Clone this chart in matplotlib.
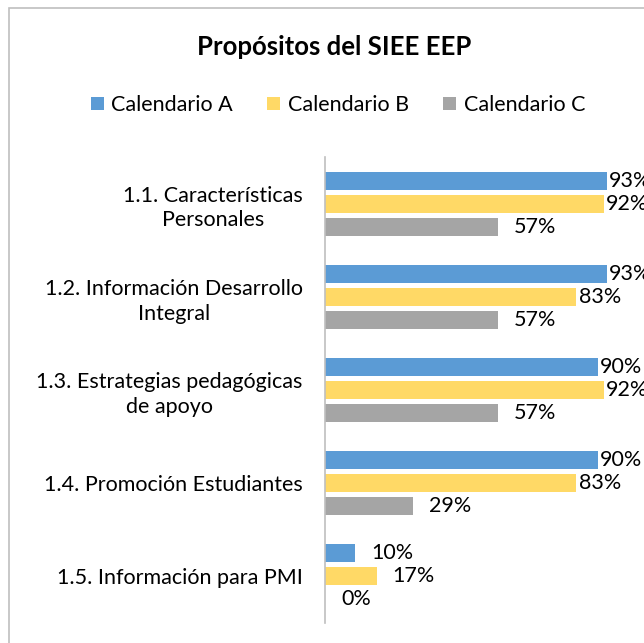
import matplotlib.pyplot as plt
import numpy as np
from matplotlib.patches import Rectangle, Patch

plt.rcParams['font.family'] = ['Lato', 'DejaVu Sans']

# datos del grafico
categorias = ['1.1. Características\nPersonales',
              '1.2. Información Desarrollo\nIntegral',
              '1.3. Estrategias pedagógicas\nde apoyo',
              '1.4. Promoción Estudiantes',
              '1.5. Información para PMI']
series = ['Calendario A', 'Calendario B', 'Calendario C']
cal_a = [0.93, 0.93, 0.90, 0.90, 0.10]
cal_b = [0.92, 0.83, 0.92, 0.83, 0.17]
cal_c = [0.57, 0.57, 0.57, 0.29, 0.00]
colores = ['#5B9BD5', '#FFD966', '#A5A5A5']

fig = plt.figure(figsize=(6.44, 6.43), dpi=100)
W, H = 644, 643

# marco del grafico (recortado a la derecha y abajo)
fig.patches.append(Rectangle((9 / W, -0.1), 1.2, 1 - 8 / H + 0.1,
                             transform=fig.transFigure, fill=False,
                             edgecolor='#bfbfbf', linewidth=1.2))

ax = fig.add_axes([325 / W, 1 - 623 / H, (628 - 325) / W, (623 - 157) / H])

y = np.arange(len(categorias))
h = 0.193
paso = 0.247
for i, (vals, col) in enumerate(zip([cal_a, cal_b, cal_c], colores)):
    pos = y + (i - 1) * paso
    ax.barh(pos, vals, height=h, color=col, label=series[i])
    for p, v in zip(pos, vals):
        off = 1.5 if v >= 0.8 else 11.5
        ax.annotate(f'{round(v * 100)}%', (v, p), xytext=(off, 0),
                    textcoords='offset points', va='center', ha='left',
                    fontsize=15.5, annotation_clip=False, clip_on=False)

ax.set_ylim(len(categorias) - 0.5, -0.5)
ax.set_xlim(0, 1)
ax.set_yticks(y)
ax.set_yticklabels(categorias, fontsize=15.5, multialignment='center', linespacing=1.3)
ax.tick_params(axis='y', length=0, pad=16)
ax.xaxis.set_visible(False)
for s in ['top', 'right', 'bottom']:
    ax.spines[s].set_visible(False)
ax.spines['left'].set_color('#bfbfbf')
ax.spines['left'].set_linewidth(1.2)

fig.text(334 / W, 1 - 47 / H, 'Propósitos del SIEE EEP', ha='center', va='center',
         fontsize=18.5, fontweight='bold')

handles = [Patch(facecolor=c, edgecolor='none') for c in colores]
fig.legend(handles, series, loc='center', bbox_to_anchor=(338 / W, 1 - 105 / H),
           ncol=3, frameon=False, fontsize=15.5, handlelength=0.6, handleheight=0.6,
           handletextpad=0.35, columnspacing=1.6)

fig.savefig('out.png', dpi=100)
